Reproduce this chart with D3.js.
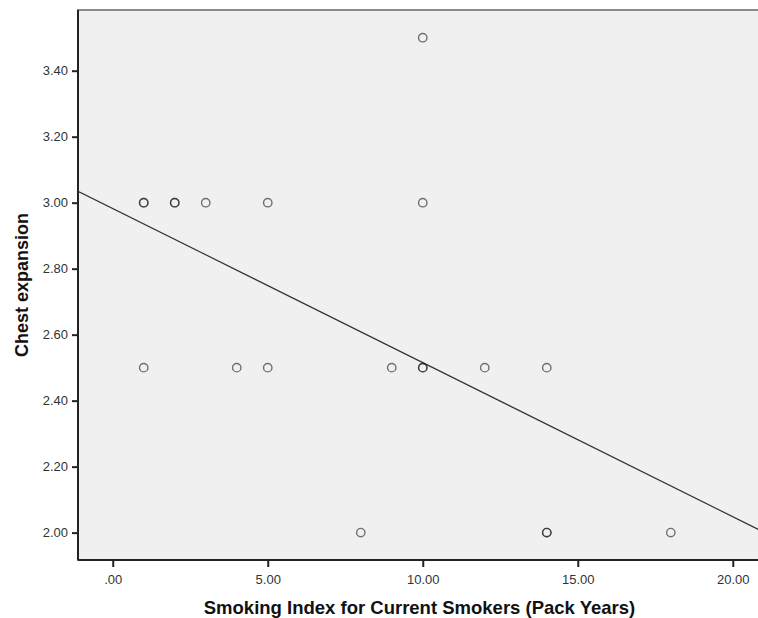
<!DOCTYPE html>
<html>
<head>
<meta charset="utf-8">
<script src="https://cdn.jsdelivr.net/npm/d3@7"></script>
<style>
  body { margin: 0; background: #fff; }
  svg { display: block; font-family: Arial, "Liberation Sans", sans-serif; }
</style>
</head>
<body>
<svg id="svg" width="758" height="618"></svg>
<script>
// pack years vs chest expansion, one entry per observation
var packYears = [1, 1, 2, 2, 3, 5, 10, 10, 1, 4, 5, 9, 10, 10, 12, 14, 8, 14, 14, 18];
var chestExp  = [3, 3, 3, 3, 3, 3, 3.5, 3, 2.5, 2.5, 2.5, 2.5, 2.5, 2.5, 2.5, 2.5, 2, 2, 2, 2];
var xTicks = [0, 5, 10, 15, 20];
var yTicks = [2.0, 2.2, 2.4, 2.6, 2.8, 3.0, 3.2, 3.4];

var svg = d3.select("#svg");
var padding = {top: 10, right: -3, bottom: 58, left: 78};
var chartArea = {
    width: 758 - padding.left - padding.right,
    height: 618 - padding.top - padding.bottom
};

var xScale = d3.scaleLinear().domain([-1.12, 20.91]).range([0, chartArea.width]);
var yScale = d3.scaleLinear().domain([1.917, 3.584]).range([chartArea.height, 0]);

var fmt = function (d) { return d3.format(".2f")(d).replace(/^0\./, "."); };

var g = svg.append("g")
    .attr("transform", "translate(" + padding.left + "," + padding.top + ")");

g.append("rect")
    .attr("width", chartArea.width)
    .attr("height", chartArea.height)
    .attr("fill", "#f0f0f0")
    .attr("stroke", "#8a8a8a")
    .attr("stroke-width", 2);

// x axis
var xAxis = g.append("g")
    .attr("transform", "translate(0," + chartArea.height + ")")
    .call(d3.axisBottom(xScale).tickValues(xTicks).tickFormat(fmt).tickSize(7).tickSizeOuter(0));

// y axis
var yAxis = g.append("g")
    .call(d3.axisLeft(yScale).tickValues(yTicks).tickFormat(fmt).tickSize(6).tickSizeOuter(0));

[xAxis, yAxis].forEach(function (a) {
    a.select(".domain").remove();
    a.selectAll("line").attr("stroke", "#222").attr("stroke-width", 2);
    a.selectAll("text").attr("fill", "#333").style("font-size", "13px");
});
xAxis.selectAll("text").attr("dy", "1.1em");
yAxis.selectAll("text").attr("dx", "-1px");

// axis lines drawn darker at left and bottom
g.append("line").attr("x1", 0).attr("x2", 0).attr("y1", 0).attr("y2", chartArea.height)
    .attr("stroke", "#222").attr("stroke-width", 2);
g.append("line").attr("x1", 0).attr("x2", chartArea.width).attr("y1", chartArea.height).attr("y2", chartArea.height)
    .attr("stroke", "#222").attr("stroke-width", 2);

// least squares fit line
var mx = d3.mean(packYears), my = d3.mean(chestExp);
var sxy = d3.sum(packYears, function (x, i) { return (x - mx) * (chestExp[i] - my); });
var sxx = d3.sum(packYears, function (x) { return (x - mx) * (x - mx); });
var slope = sxy / sxx, intercept = my - slope * mx;
var xd = xScale.domain();

g.append("clipPath").attr("id", "clip").append("rect")
    .attr("width", chartArea.width).attr("height", chartArea.height);

g.append("line")
    .attr("clip-path", "url(#clip)")
    .attr("x1", xScale(xd[0])).attr("y1", yScale(intercept + slope * xd[0]))
    .attr("x2", xScale(xd[1])).attr("y2", yScale(intercept + slope * xd[1]))
    .attr("stroke", "#333").attr("stroke-width", 1.2);

g.selectAll("circle.pt")
    .data(packYears)
    .enter()
    .append("circle")
    .attr("class", "pt")
    .attr("cx", function (d) { return xScale(d); })
    .attr("cy", function (d, i) { return yScale(chestExp[i]); })
    .attr("r", 4.2)
    .attr("fill", "none")
    .attr("stroke", "#1a1a1a")
    .attr("stroke-opacity", 0.6)
    .attr("stroke-width", 1.4);

// titles
svg.append("text")
    .attr("x", padding.left + chartArea.width / 2)
    .attr("y", 614)
    .attr("text-anchor", "middle")
    .style("font-size", "18.5px").style("font-weight", "bold")
    .attr("fill", "#111")
    .text("Smoking Index for Current Smokers (Pack Years)");

svg.append("text")
    .attr("transform", "translate(28," + (padding.top + chartArea.height / 2) + ") rotate(-90)")
    .attr("text-anchor", "middle")
    .style("font-size", "18px").style("font-weight", "bold")
    .attr("fill", "#111")
    .text("Chest expansion");
</script>
</body>
</html>
